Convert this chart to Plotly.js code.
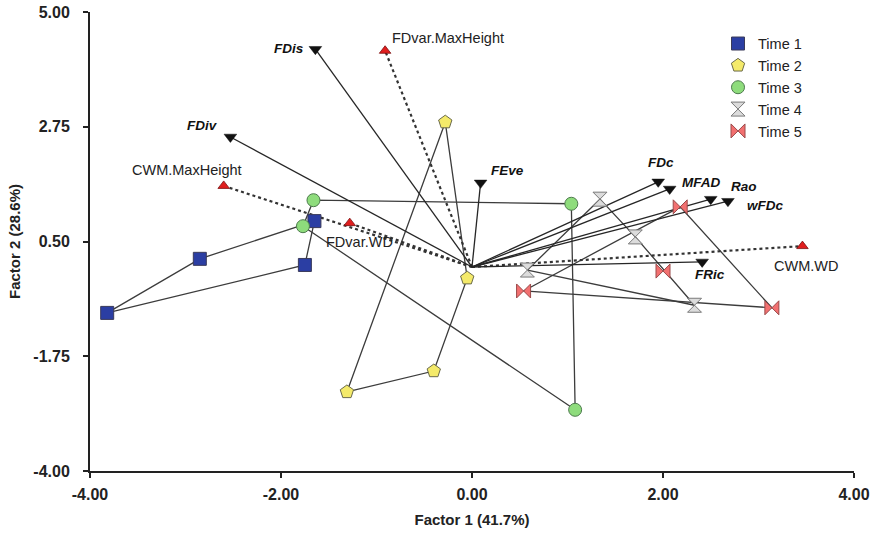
<!DOCTYPE html>
<html><head><meta charset="utf-8">
<script src="https://cdn.plot.ly/plotly-3.0.1.min.js"></script>
<style>html,body{margin:0;padding:0;background:#fff}#chart{width:871px;height:534px}</style>
</head><body><div id="chart"></div>
<script>
// ---- data ----
const timeNames = ['Time 1','Time 2','Time 3','Time 4','Time 5'];
const time1X = [-1.65, -2.85, -3.82, -1.75];
const time1Y = [ 0.90,  0.16, -0.90,  0.04];
const time2X = [-0.28, -0.05, -0.40, -1.31];
const time2Y = [ 2.84, -0.22, -2.04, -2.45];
const time3X = [-1.66, -1.77,  1.04,  1.08];
const time3Y = [ 1.31,  0.80,  1.24, -2.80];
const time4X = [ 1.34,  1.71,  0.58,  2.33];
const time4Y = [ 1.33,  0.59, -0.06, -0.75];
const time5X = [ 2.18,  2.00,  0.54,  3.14];
const time5Y = [ 1.18, -0.08, -0.47, -0.80];

const indexNames = ['FDis','FDiv','FEve','FDc','MFAD','Rao','wFDc','FRic'];
const indexX = [-1.64, -2.53, 0.09, 1.95, 2.07, 2.50, 2.68, 2.41];
const indexY = [ 4.27,  2.55, 1.65, 1.67, 1.53, 1.33, 1.29, 0.10];

const traitNames = ['FDvar.MaxHeight','CWM.MaxHeight','FDvar.WD','CWM.WD'];
const traitX = [-0.91, -2.60, -1.28, 3.46];
const traitY = [ 4.24,  1.59,  0.86, 0.41];

const xTicks = [-4, -2, 0, 2, 4];
const yTicks = [-4, -1.75, 0.5, 2.75, 5];

// ---- styles ----
const timeStyles = [
  {symbol:'square',   color:'#2b3ea3', line:'#3a3a5a', size:13},
  {symbol:'pentagon', color:'#f4ea6a', line:'#6a6a4a', size:14},
  {symbol:'circle',   color:'#8edc7c', line:'#4d7a4d', size:13},
  {symbol:'hourglass',color:'#dcdcdc', line:'#7a7a7a', size:14},
  {symbol:'bowtie',   color:'#f27070', line:'#9a4a4a', size:14}
];
const indexLabelStyle = {
  'FDis': {xanchor:'right', xshift:-9, yshift:1},
  'FDiv': {xanchor:'right', xshift:-10, yshift:11},
  'FEve': {xanchor:'left', xshift:8, yshift:12},
  'FDc':  {xanchor:'center', xshift:3, yshift:19},
  'MFAD': {xanchor:'left', xshift:10, yshift:6},
  'Rao':  {xanchor:'left', xshift:18, yshift:13},
  'wFDc': {xanchor:'left', xshift:17, yshift:-4},
  'FRic': {xanchor:'center', xshift:8, yshift:-13}
};
const traitLabelStyle = {
  'FDvar.MaxHeight': {xanchor:'left', xshift:5, yshift:13},
  'CWM.MaxHeight':   {xanchor:'center', xshift:-37, yshift:16},
  'FDvar.WD':        {xanchor:'center', xshift:10, yshift:-19},
  'CWM.WD':          {xanchor:'center', xshift:4, yshift:-20}
};

function hull(xs, ys){
  const pts = xs.map((x,i)=>[x,ys[i]]).sort((a,b)=>a[0]-b[0]||a[1]-b[1]);
  const cross=(o,a,b)=>(a[0]-o[0])*(b[1]-o[1])-(a[1]-o[1])*(b[0]-o[0]);
  const lower=[], upper=[];
  for(const p of pts){ while(lower.length>=2&&cross(lower[lower.length-2],lower[lower.length-1],p)<=0) lower.pop(); lower.push(p);}
  for(let i=pts.length-1;i>=0;i--){const p=pts[i]; while(upper.length>=2&&cross(upper[upper.length-2],upper[upper.length-1],p)<=0) upper.pop(); upper.push(p);}
  upper.pop(); lower.pop();
  const h = lower.concat(upper); h.push(h[0]);
  return {x:h.map(p=>p[0]), y:h.map(p=>p[1])};
}

const allX = [time1X,time2X,time3X,time4X,time5X];
const allY = [time1Y,time2Y,time3Y,time4Y,time5Y];
const traces = [];

// hull outlines
allX.forEach((xs,i)=>{
  const h = hull(xs, allY[i]);
  traces.push({x:h.x, y:h.y, mode:'lines', type:'scatter', showlegend:false, hoverinfo:'skip',
    line:{color:'#3c3c3c', width:1.3}});
});
// trait dotted vectors
const tvx=[], tvy=[];
traitX.forEach((x,i)=>{tvx.push(0,x,null); tvy.push(0,traitY[i],null);});
traces.push({x:tvx, y:tvy, mode:'lines', type:'scatter', showlegend:false, hoverinfo:'skip',
  line:{color:'#333', width:2.2, dash:'dot'}});
// index solid vectors
const ivx=[], ivy=[];
indexX.forEach((x,i)=>{ivx.push(0,x,null); ivy.push(0,indexY[i],null);});
traces.push({x:ivx, y:ivy, mode:'lines', type:'scatter', showlegend:false, hoverinfo:'skip',
  line:{color:'#262626', width:1.3}});
// time markers
allX.forEach((xs,i)=>{
  const s = timeStyles[i];
  traces.push({x:xs, y:allY[i], mode:'markers', type:'scatter', name:timeNames[i],
    marker:{symbol:s.symbol, size:s.size, color:s.color, line:{color:s.line, width:1}}});
});
// vector heads
traces.push({x:indexX, y:indexY, mode:'markers', type:'scatter', showlegend:false,
  marker:{symbol:'triangle-down', size:11, color:'#111', line:{color:'#111', width:0.5}}});
traces.push({x:traitX, y:traitY, mode:'markers', type:'scatter', showlegend:false,
  marker:{symbol:'triangle-up', size:10, color:'#e01e1e', line:{color:'#7a1010', width:0.8}}});

const annotations = [];
indexNames.forEach((n,i)=>{
  const st = indexLabelStyle[n];
  annotations.push({x:indexX[i], y:indexY[i], xref:'x', yref:'y', text:'<b><i>'+n+'</i></b>', showarrow:false,
    xanchor:st.xanchor, yanchor:'middle', xshift:st.xshift, yshift:st.yshift,
    font:{family:'Liberation Sans, Arial, sans-serif', size:13.5, color:'#111'}});
});
traitNames.forEach((n,i)=>{
  const st = traitLabelStyle[n];
  annotations.push({x:traitX[i], y:traitY[i], xref:'x', yref:'y', text:n, showarrow:false,
    xanchor:st.xanchor, yanchor:'middle', xshift:st.xshift, yshift:st.yshift,
    font:{family:'Liberation Sans, Arial, sans-serif', size:14.5, color:'#222'}});
});

const tickFont = {family:'Liberation Sans, Arial, sans-serif', size:16, color:'#222', weight:'bold'};
const layout = {
  width:871, height:534,
  margin:{l:90, r:17, t:12, b:63, pad:0},
  paper_bgcolor:'#fff', plot_bgcolor:'#fff',
  showlegend:true,
  legend:{x:0.822, y:0.966, xanchor:'left', yanchor:'top', bgcolor:'rgba(0,0,0,0)',
    font:{family:'Liberation Sans, Arial, sans-serif', size:14.5, color:'#222'}, tracegroupgap:0},
  xaxis:{range:[-4,4], tickvals:xTicks, ticktext:xTicks.map(v=>v.toFixed(2)), ticks:'outside', ticklen:5, tickwidth:2,
    tickcolor:'#222', showline:true, linewidth:2, linecolor:'#222', showgrid:false, zeroline:false,
    tickfont:tickFont, ticklabelstandoff:3,
    title:{text:'<b>Factor 1 (41.7%)</b>', font:{family:'Liberation Sans, Arial, sans-serif', size:15, color:'#222'}, standoff:12}},
  yaxis:{range:[-4,5], tickvals:yTicks, ticktext:yTicks.map(v=>v.toFixed(2)), ticks:'outside', ticklen:5, tickwidth:2,
    tickcolor:'#222', showline:true, linewidth:2, linecolor:'#222', showgrid:false, zeroline:false,
    tickfont:tickFont, ticklabelstandoff:10,
    title:{text:'<b>Factor 2 (28.6%)</b>', font:{family:'Liberation Sans, Arial, sans-serif', size:15, color:'#222'}, standoff:9}},
  annotations:annotations
};
Plotly.newPlot('chart', traces, layout, {displayModeBar:false, staticPlot:true});
</script>
</body></html>
